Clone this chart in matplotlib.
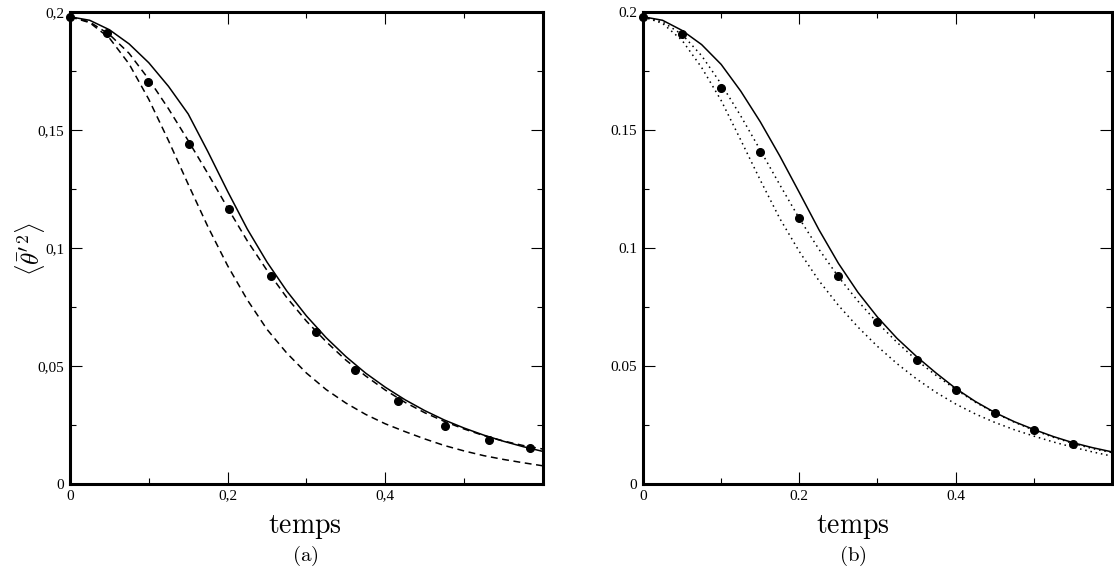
import matplotlib
matplotlib.use('Agg')
import matplotlib.pyplot as plt
from matplotlib.ticker import FixedLocator, MultipleLocator, FuncFormatter

plt.rcParams['font.family'] = 'serif'
plt.rcParams['font.serif'] = ['Liberation Serif', 'DejaVu Serif']
plt.rcParams['mathtext.fontset'] = 'cm'

# temps grid used for the curves (read every 0.025)
t = [0.0, 0.025, 0.05, 0.075, 0.1, 0.125, 0.15, 0.175, 0.2, 0.225, 0.25, 0.275, 0.3,
     0.325, 0.35, 0.375, 0.4, 0.425, 0.45, 0.475, 0.5, 0.525, 0.55, 0.575, 0.6]

# panel (a)
a_solid = [0.198, 0.1965, 0.1925, 0.1865, 0.1785, 0.1685, 0.1568, 0.1408, 0.124, 0.108,
           0.094, 0.0818, 0.0712, 0.062, 0.054, 0.047, 0.041, 0.0357, 0.0311, 0.0271,
           0.0237, 0.0207, 0.0181, 0.0158, 0.0138]
a_dash1 = [0.198, 0.1958, 0.1905, 0.1825, 0.1715, 0.159, 0.1455, 0.1315, 0.117, 0.103,
           0.0905, 0.079, 0.069, 0.0603, 0.0525, 0.0458, 0.0398, 0.0346, 0.0302, 0.0265,
           0.0233, 0.0205, 0.0182, 0.0163, 0.0148]
a_dash2 = [0.198, 0.1955, 0.189, 0.178, 0.163, 0.1455, 0.127, 0.109, 0.0925, 0.078,
           0.0655, 0.0555, 0.047, 0.040, 0.0343, 0.0295, 0.0255, 0.0222, 0.0191, 0.0163,
           0.014, 0.012, 0.0104, 0.009, 0.0077]
a_pts_t = [0.0, 0.047, 0.099, 0.151, 0.2017, 0.255, 0.312, 0.3615, 0.416, 0.4757, 0.531, 0.584]
a_pts_y = [0.198, 0.1911, 0.1703, 0.1441, 0.1165, 0.0881, 0.0644, 0.0483, 0.0352, 0.0246,
           0.0186, 0.0152]

# panel (b)
b_solid = [0.198, 0.1965, 0.1922, 0.1862, 0.1778, 0.1665, 0.1535, 0.139, 0.1235, 0.1078,
           0.0935, 0.0812, 0.0707, 0.0617, 0.054, 0.047, 0.0405, 0.035, 0.0303, 0.0264,
           0.0231, 0.0201, 0.0175, 0.0154, 0.0136]
b_dot1 = [0.198, 0.1958, 0.1905, 0.1815, 0.1695, 0.156, 0.1415, 0.1268, 0.1125, 0.0995,
          0.0878, 0.0775, 0.0683, 0.060, 0.0525, 0.046, 0.0401, 0.0347, 0.0301, 0.0262,
          0.0228, 0.0198, 0.0172, 0.015, 0.0133]
b_dot2 = [0.198, 0.1952, 0.188, 0.1765, 0.1625, 0.1458, 0.1288, 0.1125, 0.0985, 0.0862,
          0.0757, 0.0665, 0.0583, 0.051, 0.0445, 0.0388, 0.0339, 0.0297, 0.0261, 0.023,
          0.0203, 0.0178, 0.0156, 0.0136, 0.0118]
b_pts_t = [0.0, 0.05, 0.1, 0.15, 0.2, 0.25, 0.3, 0.35, 0.4, 0.45, 0.5, 0.55]
b_pts_y = [0.198, 0.1907, 0.168, 0.1407, 0.1127, 0.0881, 0.0686, 0.0525, 0.0398, 0.0301,
           0.0229, 0.0170]

fig = plt.figure(figsize=(11.14, 5.67), dpi=100)
axa = fig.add_axes([0.0628, 0.1464, 0.4246, 0.8324])
axb = fig.add_axes([0.5772, 0.1464, 0.4210, 0.8324])


def fmt_comma(v, pos):
    if abs(v) < 1e-9:
        return '0'
    return ('%g' % round(v, 4)).replace('.', ',')


def fmt_dot(v, pos):
    if abs(v) < 1e-9:
        return '0'
    return '%g' % round(v, 4)


def style(ax, fmt):
    ax.set_xlim(0, 0.6)
    ax.set_ylim(0, 0.2)
    ax.xaxis.set_major_locator(FixedLocator([0, 0.2, 0.4]))
    ax.xaxis.set_minor_locator(FixedLocator([0.1, 0.3, 0.5]))
    ax.yaxis.set_major_locator(MultipleLocator(0.05))
    ax.yaxis.set_minor_locator(MultipleLocator(0.025))
    ax.xaxis.set_major_formatter(FuncFormatter(fmt))
    ax.yaxis.set_major_formatter(FuncFormatter(fmt))
    ax.tick_params(which='both', direction='in', top=True, right=True, width=0.8,
                   labelsize=11, pad=4)
    ax.tick_params(which='major', length=8.5)
    ax.tick_params(which='minor', length=4.5)
    for s in ax.spines.values():
        s.set_linewidth(2.2)


axa.plot(t, a_solid, color='black', lw=1.1)
axa.plot(t, a_dash1, color='black', lw=1.1, ls=(0, (4.5, 3)))
axa.plot(t, a_dash2, color='black', lw=1.1, ls=(0, (4.5, 3)))
axa.plot(a_pts_t, a_pts_y, 'o', color='black', ms=5.5, clip_on=False, zorder=5)
style(axa, fmt_comma)

axb.plot(t, b_solid, color='black', lw=1.1)
axb.plot(t, b_dot1, color='black', lw=1.1, ls=(0, (1, 2.5)))
axb.plot(t, b_dot2, color='black', lw=1.1, ls=(0, (1, 2.5)))
axb.plot(b_pts_t, b_pts_y, 'o', color='black', ms=5.5, clip_on=False, zorder=5)
style(axb, fmt_dot)

fig.text(0.027, 0.56, r"$\langle \bar{\theta}^{\prime\,2} \rangle$", fontsize=18,
         rotation=90, ha='center', va='center')
fig.text(0.274, 0.06, r'$\mathrm{temps}$', fontsize=20, ha='center', va='baseline')
fig.text(0.274, 0.011, r'$\mathrm{(a)}$', fontsize=15, ha='center', va='baseline')
fig.text(0.766, 0.06, r'$\mathrm{temps}$', fontsize=20, ha='center', va='baseline')
fig.text(0.766, 0.011, r'$\mathrm{(b)}$', fontsize=15, ha='center', va='baseline')

fig.savefig('out.png', dpi=100)
